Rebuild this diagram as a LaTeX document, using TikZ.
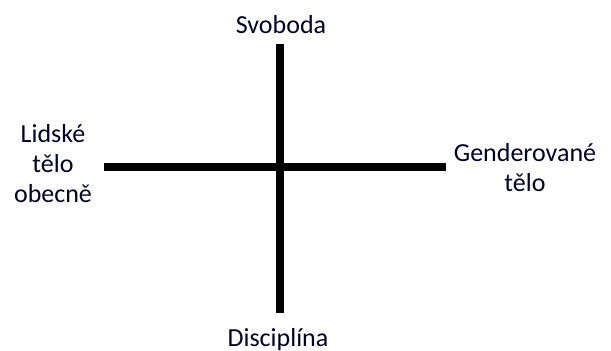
\documentclass[tikz,border=0pt]{standalone}
\usepackage{fontspec}
\setmainfont{Carlito}
\usetikzlibrary{positioning}
\tikzset{
    axis line/.style={line width=8pt, draw=black, line cap=butt},
    pole label/.style={inner sep=0pt, align=center, font=\fontsize{26}{30}\selectfont, text=black!80!blue!70!black},
}

\begin{document}
\begin{tikzpicture}[x=1pt, y=-1pt]
\useasboundingbox (0,0) rectangle (611,351);
\coordinate (top) at (280,44);
\coordinate (bottom) at (280,313);
\coordinate (left) at (104,167);
\coordinate (right) at (446,167);
\draw[axis line] (top) -- (bottom);
\draw[axis line] (left) -- (right);
\node[pole label, anchor=base] (svoboda) at (281,33) {Svoboda};
\node[pole label, anchor=base] (disciplina) at (278,346) {Disciplína};
\node[pole label, anchor=north] (lidske) at (53,124) {Lidské\\tělo\\obecně};
\node[pole label, anchor=north] (gender) at (525,143) {Genderované\\tělo};
\end{tikzpicture}
\end{document}
